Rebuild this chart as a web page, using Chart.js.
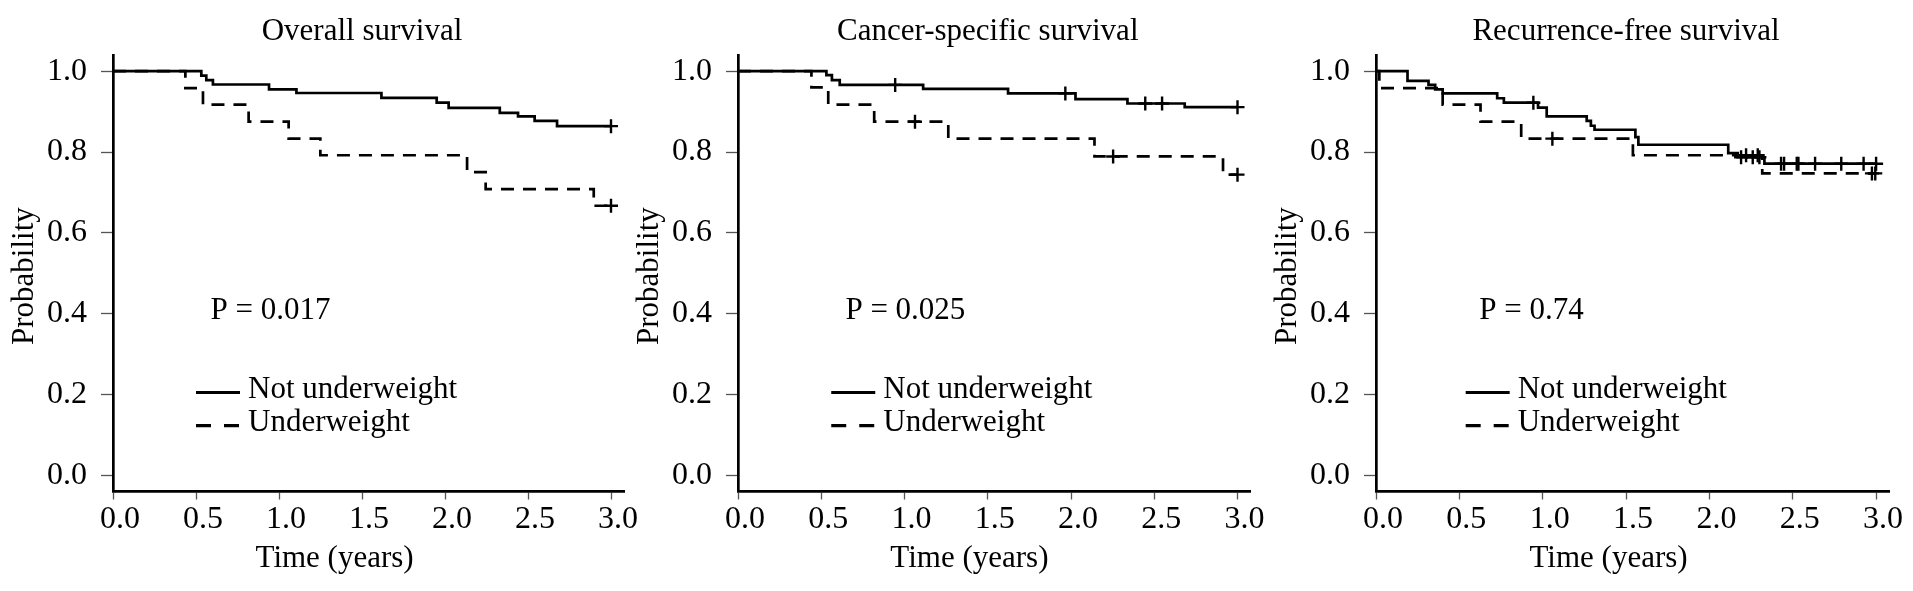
<!DOCTYPE html>
<html>
<head>
<meta charset="utf-8">
<script src="https://cdn.jsdelivr.net/npm/chart.js@4.4.1/dist/chart.umd.min.js"></script>
<style>
  html, body { margin: 0; padding: 0; background: #fff; width: 1913px; height: 591px; overflow: hidden; }
  canvas { position: absolute; top: 0; }
</style>
</head>
<body>
<canvas id="c0"></canvas>
<canvas id="c1"></canvas>
<canvas id="c2"></canvas>
<script>
// ---------------- DATA ----------------
const xTickValues = [0, 0.5, 1, 1.5, 2, 2.5, 3];
const xTickLabels = ['0.0', '0.5', '1.0', '1.5', '2.0', '2.5', '3.0'];
const yTickValues = [0, 0.2, 0.4, 0.6, 0.8, 1.0];
const yTickLabels = ['0.0', '0.2', '0.4', '0.6', '0.8', '1.0'];
const panelTitles = ['Overall survival', 'Cancer-specific survival', 'Recurrence-free survival'];
const pValueLabels = ['P = 0.017', 'P = 0.025', 'P = 0.74'];
const seriesNames = ['Not underweight', 'Underweight'];
const xAxisLabel = 'Time (years)';
const yAxisLabel = 'Probability';

// Overall survival
const osNotUwTime = [0, 0.532, 0.562, 0.602, 0.94, 1.105, 1.617, 1.95, 2.022, 2.33, 2.44, 2.54, 2.675, 3.0];
const osNotUwProb = [1, 0.989, 0.978, 0.967, 0.955, 0.946, 0.934, 0.922, 0.909, 0.897, 0.888, 0.877, 0.864, 0.864];
const osNotUwCensorTime = [3.0];
const osNotUwCensorProb = [0.864];
const osUwTime = [0, 0.436, 0.542, 0.817, 1.058, 1.249, 2.133, 2.245, 2.896, 3.0];
const osUwProb = [1, 0.958, 0.917, 0.875, 0.833, 0.792, 0.75, 0.708, 0.667, 0.667];
const osUwCensorTime = [3.0];
const osUwCensorProb = [0.667];

// Cancer-specific survival
const cssNotUwTime = [0, 0.531, 0.564, 0.611, 1.112, 1.622, 2.027, 2.339, 2.683, 3.0];
const cssNotUwProb = [1, 0.990, 0.978, 0.966, 0.956, 0.945, 0.931, 0.920, 0.911, 0.911];
const cssNotUwCensorTime = [0.944, 1.966, 2.446, 2.547, 3.0];
const cssNotUwCensorProb = [0.966, 0.945, 0.920, 0.920, 0.911];
const cssUwTime = [0, 0.441, 0.542, 0.818, 1.263, 2.141, 2.913, 3.0];
const cssUwProb = [1, 0.960, 0.917, 0.875, 0.833, 0.789, 0.744, 0.744];
const cssUwCensorTime = [1.063, 2.253, 3.0];
const cssUwCensorProb = [0.875, 0.789, 0.744];

// Recurrence-free survival
const rfsNotUwTime = [0, 0.189, 0.315, 0.355, 0.40, 0.727, 0.767, 0.972, 1.024, 1.264, 1.289, 1.311, 1.556, 1.574, 2.113, 2.17, 2.33, 3.0];
const rfsNotUwProb = [1, 0.976, 0.966, 0.955, 0.945, 0.933, 0.922, 0.910, 0.888, 0.877, 0.865, 0.855, 0.837, 0.818, 0.797, 0.787, 0.771, 0.771];
const rfsNotUwCensorTime = [0.944, 2.19, 2.26, 2.30, 2.43, 2.448, 2.524, 2.534, 2.634, 2.791, 2.925, 3.0];
const rfsNotUwCensorProb = [0.922, 0.787, 0.787, 0.787, 0.771, 0.771, 0.771, 0.771, 0.771, 0.771, 0.771, 0.771];
const rfsUwTime = [0, 0.02, 0.40, 0.627, 0.871, 1.541, 2.317, 3.0];
const rfsUwProb = [1, 0.958, 0.917, 0.875, 0.833, 0.792, 0.747, 0.747];
const rfsUwCensorTime = [1.058, 2.22, 2.29, 2.975, 2.995];
const rfsUwCensorProb = [0.833, 0.792, 0.792, 0.747, 0.747];

// ---------------- LAYOUT ----------------
const FONT_FAMILY = '"Liberation Serif", "Times New Roman", serif';
const FONT_SIZE = 31;
const TICK_FONT_SIZE = 32;
const CANVAS_H = 591;
const AXIS_W = 113;          // width reserved for y axis inside each canvas
const PLOT_TOP = 55;
const PLOT_BOTTOM = 491.5;
const X_MAX = 3.08;
const Y_MIN = -0.04, Y_MAX = 1.04;
const panelAxisX = [113, 738, 1376];
const panelPxPerYear = [166, 166.5, 166.7];
const pTextAt = [0.587, 0.645, 0.62];
const legendAt = [0.50, 0.56, 0.538];
const xTitleAt = [1.335, 1.39, 1.395];

const panels = [
  [[osNotUwTime, osNotUwProb, osNotUwCensorTime, osNotUwCensorProb], [osUwTime, osUwProb, osUwCensorTime, osUwCensorProb]],
  [[cssNotUwTime, cssNotUwProb, cssNotUwCensorTime, cssNotUwCensorProb], [cssUwTime, cssUwProb, cssUwCensorTime, cssUwCensorProb]],
  [[rfsNotUwTime, rfsNotUwProb, rfsNotUwCensorTime, rfsNotUwCensorProb], [rfsUwTime, rfsUwProb, rfsUwCensorTime, rfsUwCensorProb]]
];
const dashPattern = [13, 9];

Chart.defaults.font.family = FONT_FAMILY;
Chart.defaults.font.size = FONT_SIZE;
Chart.defaults.color = '#000';

const annotPlugin = {
  id: 'annot',
  afterDraw(chart, args, opts) {
    const p = opts.panel;
    const ctx = chart.ctx;
    const x = chart.scales.x, y = chart.scales.y;
    ctx.save();
    ctx.fillStyle = '#000';
    ctx.strokeStyle = '#000';
    ctx.font = FONT_SIZE + 'px ' + FONT_FAMILY;
    ctx.textBaseline = 'alphabetic';
    // panel title
    ctx.textAlign = 'center';
    ctx.fillText(panelTitles[p], x.getPixelForValue(1.5), 39.5);
    // x axis title
    ctx.fillText(xAxisLabel, x.getPixelForValue(xTitleAt[p]), 566.5);
    // y axis title
    ctx.save();
    ctx.translate(33, y.getPixelForValue(0.493));
    ctx.rotate(-Math.PI / 2);
    ctx.fillText(yAxisLabel, 0, 0);
    ctx.restore();
    // p value
    ctx.textAlign = 'left';
    ctx.fillText(pValueLabels[p], x.getPixelForValue(pTextAt[p]), y.getPixelForValue(0.387));
    // legend
    const lx0 = x.getPixelForValue(legendAt[p]);
    const rows = [0.205, 0.123];
    rows.forEach((rv, i) => {
      const ly = y.getPixelForValue(rv);
      ctx.lineWidth = 3.2;
      ctx.setLineDash(i === 0 ? [] : [15, 13]);
      ctx.beginPath();
      ctx.moveTo(lx0, ly);
      ctx.lineTo(lx0 + 44, ly);
      ctx.stroke();
      ctx.setLineDash([]);
      ctx.fillText(seriesNames[i], lx0 + 52, ly + 5.5);
    });
    ctx.restore();
  }
};

function toPoints(ts, vs) { return ts.map((t, i) => ({ x: t, y: vs[i] })); }

panels.forEach((series, p) => {
  const cv = document.getElementById('c' + p);
  const plotW = X_MAX * panelPxPerYear[p];
  const W = Math.ceil(AXIS_W + plotW + 30);
  const padRight = W - AXIS_W - plotW;
  cv.width = W; cv.height = CANVAS_H;
  cv.style.width = W + 'px'; cv.style.height = CANVAS_H + 'px';
  cv.style.left = (panelAxisX[p] - AXIS_W) + 'px';

  const datasets = [];
  series.forEach((s, i) => {
    datasets.push({
      label: seriesNames[i],
      data: toPoints(s[0], s[1]),
      stepped: 'before',
      borderColor: '#000',
      borderWidth: 2.7,
      borderDash: i === 1 ? dashPattern : [],
      pointRadius: 0,
      fill: false,
      tension: 0
    });
    datasets.push({
      label: seriesNames[i] + ' (censored)',
      data: toPoints(s[2], s[3]),
      showLine: false,
      pointStyle: 'cross',
      pointRadius: 7,
      pointBorderWidth: 2.4,
      pointBorderColor: '#000',
      borderColor: '#000',
      clip: false
    });
  });

  new Chart(cv, {
    type: 'line',
    data: { datasets },
    options: {
      responsive: false,
      animation: false,
      events: [],
      devicePixelRatio: 1,
      layout: { padding: { top: PLOT_TOP, left: 0, right: padRight, bottom: 0 } },
      plugins: {
        legend: { display: false },
        tooltip: { enabled: false },
        title: { display: false },
        annot: { panel: p }
      },
      scales: {
        x: {
          type: 'linear',
          min: 0, max: X_MAX,
          afterFit: s => { s.height = CANVAS_H - PLOT_BOTTOM; },
          afterBuildTicks: s => { s.ticks = xTickValues.map(v => ({ value: v })); },
          ticks: {
            callback: (v, i) => xTickLabels[i],
            padding: 1,
            labelOffset: 7,
            maxRotation: 0,
            autoSkip: false,
            color: '#000',
            font: { size: TICK_FONT_SIZE, family: FONT_FAMILY }
          },
          grid: { drawOnChartArea: false, drawTicks: true, tickLength: 8, tickWidth: 1.3, tickColor: '#555' },
          border: { display: true, color: '#000', width: 2.7 }
        },
        y: {
          type: 'linear',
          min: Y_MIN, max: Y_MAX,
          afterFit: s => { s.width = AXIS_W; },
          afterBuildTicks: s => { s.ticks = yTickValues.map(v => ({ value: v })); },
          ticks: {
            callback: (v, i) => yTickLabels[i],
            padding: 14,
            autoSkip: false,
            color: '#000',
            font: { size: TICK_FONT_SIZE, family: FONT_FAMILY }
          },
          grid: { drawOnChartArea: false, drawTicks: true, tickLength: 12, tickWidth: 1.3, tickColor: '#555' },
          border: { display: true, color: '#000', width: 2.7 }
        }
      }
    },
    plugins: [annotPlugin]
  });
});
</script>
</body>
</html>
